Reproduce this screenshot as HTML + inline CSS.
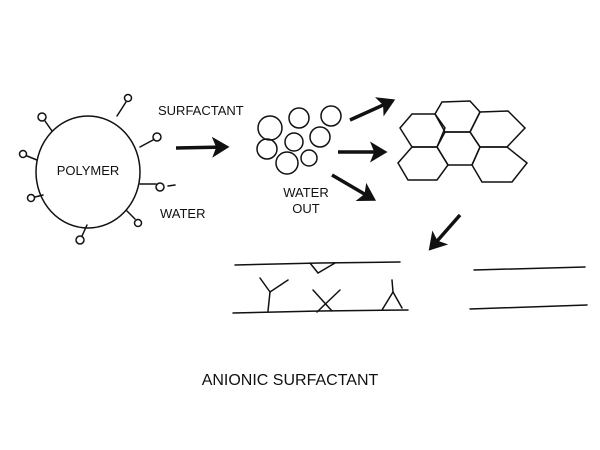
<!DOCTYPE html>
<html><head><style>body{margin:0;background:#fff}svg{display:block}</style></head><body>
<svg width="600" height="450" viewBox="0 0 600 450" xmlns="http://www.w3.org/2000/svg" font-family="Liberation Sans, sans-serif">
<defs><marker id="ah" markerWidth="6" markerHeight="6" refX="4" refY="3" orient="auto" markerUnits="strokeWidth"><path d="M0,0 L5,3 L0,6 L1.2,3 z" fill="#111"/></marker></defs>
<g fill="none" stroke="#111" stroke-width="1.5" stroke-linecap="round">
<ellipse cx="88" cy="172" rx="52" ry="56"/>
<circle cx="42" cy="117" r="4"/><line x1="45" y1="121" x2="52" y2="131"/>
<circle cx="128" cy="98" r="3.5"/><line x1="126" y1="102" x2="117" y2="116"/>
<circle cx="157" cy="137" r="4"/><line x1="153" y1="140" x2="140" y2="147"/>
<circle cx="23" cy="154" r="3.5"/><line x1="27" y1="156" x2="37" y2="160"/>
<circle cx="31" cy="198" r="3.5"/><line x1="35" y1="197" x2="43" y2="195"/>
<circle cx="160" cy="187" r="4"/><line x1="156" y1="184" x2="140" y2="184"/><line x1="168" y1="186" x2="175" y2="185"/>
<circle cx="138" cy="223" r="3.5"/><line x1="135" y1="219" x2="127" y2="211"/>
<circle cx="80" cy="240" r="4"/><line x1="82" y1="236" x2="87" y2="225"/>
<circle cx="270" cy="128" r="12"/><circle cx="299" cy="118" r="10"/><circle cx="331" cy="116" r="10"/>
<circle cx="294" cy="142" r="9"/><circle cx="320" cy="137" r="10"/><circle cx="267" cy="149" r="10"/>
<circle cx="287" cy="163" r="11"/><circle cx="309" cy="158" r="8"/>
<polygon points="412,114 435,114 445,128 437,147 412,147 400,128"/>
<polygon points="442,102 470,101 480,112 470,132 445,132 435,114"/>
<polygon points="480,112 508,111 525,128 507,147 480,147 470,132"/>
<polygon points="445,132 470,132 480,147 472,165 448,165 437,147"/>
<polygon points="412,147 437,147 448,165 437,180 408,180 398,163"/>
<polygon points="480,147 507,147 527,163 512,182 482,182 472,165"/>
<polyline points="235,265 320,263 400,262"/>
<polyline points="233,313 320,311 408,310"/>
<line x1="474" y1="270" x2="585" y2="267"/><line x1="470" y1="309" x2="587" y2="305"/>
<polyline points="310,263 318,273 335,263"/>
<line x1="268" y1="311" x2="270" y2="292"/><line x1="270" y1="292" x2="260" y2="278"/><line x1="270" y1="292" x2="288" y2="280"/>
<line x1="317" y1="312" x2="340" y2="290"/><line x1="313" y1="290" x2="332" y2="311"/>
<polyline points="382,310 393,292 402,308"/><line x1="393" y1="292" x2="392" y2="280"/>
</g>
<g stroke="#111" stroke-width="3.5" marker-end="url(#ah)">
<line x1="176" y1="148" x2="226" y2="147"/>
<line x1="350" y1="120" x2="392" y2="101"/>
<line x1="338" y1="152" x2="384" y2="152"/>
<line x1="332" y1="175" x2="373" y2="199"/>
<line x1="460" y1="215" x2="431" y2="248"/>
</g>
<g fill="#111" font-size="13">
<text x="88" y="175" text-anchor="middle">POLYMER</text>
<text x="158" y="115">SURFACTANT</text>
<text x="160" y="218">WATER</text>
<text x="306" y="197" text-anchor="middle">WATER</text>
<text x="306" y="213" text-anchor="middle">OUT</text>
<text x="290" y="385" text-anchor="middle" font-size="16">ANIONIC SURFACTANT</text>
</g>
</svg>
</body></html>
